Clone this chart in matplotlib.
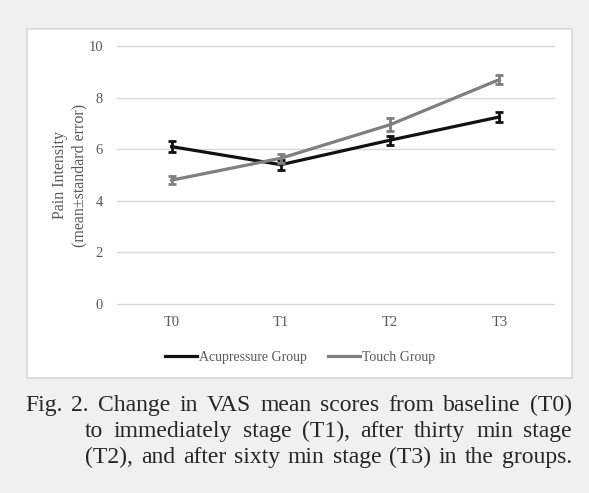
import matplotlib
import matplotlib.pyplot as plt
import matplotlib.patches
import numpy as np

matplotlib.rcParams["font.family"] = ["Liberation Serif", "DejaVu Serif"]

W, H = 589, 493

# data
stages = ["T0", "T1", "T2", "T3"]
acupressure_mean = [6.1, 5.4, 6.35, 7.25]
acupressure_se = [0.22, 0.2, 0.18, 0.2]
touch_mean = [4.8, 5.65, 6.95, 8.7]
touch_se = [0.15, 0.18, 0.25, 0.18]

caption = [
    "Fig. 2. Change in VAS mean scores from baseline (T0)",
    "to immediately stage (T1), after thirty min stage",
    "(T2), and after sixty min stage (T3) in the groups.",
]

bg = "#f0f0f0"
grid_gray = "#d9d9d9"
tick_gray = "#595959"
dark = "#111111"
mid = "#7f7f7f"


def px(x, y):
    # pixel coords (top-left origin) to figure fraction
    return x / W, 1 - y / H


fig = plt.figure(figsize=(W / 100, H / 100), dpi=100, facecolor=bg)

# white chart box
x0, y0 = px(27, 378)
x1, y1 = px(572, 29)
box = matplotlib.patches.Rectangle(
    (x0, y0), x1 - x0, y1 - y0, transform=fig.transFigure,
    facecolor="white", edgecolor=grid_gray, linewidth=1.2, zorder=-5,
)
fig.patches.append(box)

left, top = px(117, 46)
right, bottom = px(554, 304)
ax = fig.add_axes([left, bottom, right - left, top - bottom], zorder=2)
ax.set_facecolor("none")

x = np.arange(len(stages))
ax.errorbar(x, acupressure_mean, yerr=acupressure_se, color=dark, lw=2.3,
            elinewidth=2, capsize=3, capthick=2, label="Acupressure Group", zorder=3)
ax.errorbar(x, touch_mean, yerr=touch_se, color=mid, lw=2.3,
            elinewidth=2, capsize=3, capthick=2, label="Touch Group", zorder=4)

ax.set_xlim(-0.5, len(stages) - 0.5)
ax.set_ylim(0, 10)
ax.set_yticks(np.arange(0, 11, 2))
ax.set_xticks(x)
ax.set_xticklabels(stages)
ax.grid(axis="y", color=grid_gray, lw=1)
for gl in ax.get_ygridlines():
    gl.set_clip_on(False)
ax.set_axisbelow(True)
for s in ax.spines.values():
    s.set_visible(False)
ax.tick_params(length=0, colors=tick_gray, labelsize=10.5)
ax.tick_params(axis="y", pad=10)
ax.tick_params(axis="x", pad=9)

ax.set_ylabel("Pain Intensity\n(mean±standard error)", fontsize=11.5,
              color=tick_gray, linespacing=1.25)
ax.yaxis.set_label_coords(-30 / (554 - 117), 0.5)

handles, labels = ax.get_legend_handles_labels()
handles = [h[0] for h in handles]
lx, ly = px(300, 357)
fig.legend(handles, labels, loc="center", bbox_to_anchor=(lx, ly), ncol=2,
           frameon=False, fontsize=10, handlelength=2.3, handletextpad=0.15,
           columnspacing=1.5, labelcolor=tick_gray)

# caption, justified lines with hanging indent
fig.canvas.draw()
renderer = fig.canvas.get_renderer()
cap_size = 17
line_y = [411, 437, 463]
line_x0 = [25, 85, 85]
line_x1 = 572
for i, line in enumerate(caption):
    words = line.split(" ")
    texts = []
    for w in words:
        t = fig.text(0, 0, w, fontsize=cap_size, color="#262626",
                     va="baseline", ha="left")
        texts.append(t)
    widths = [t.get_window_extent(renderer).width for t in texts]
    gap = (line_x1 - line_x0[i] - sum(widths)) / (len(words) - 1)
    cx = line_x0[i]
    for t, wd in zip(texts, widths):
        t.set_position(px(cx, line_y[i]))
        cx += wd + gap

fig.savefig("out.png", dpi=100, facecolor=bg)
